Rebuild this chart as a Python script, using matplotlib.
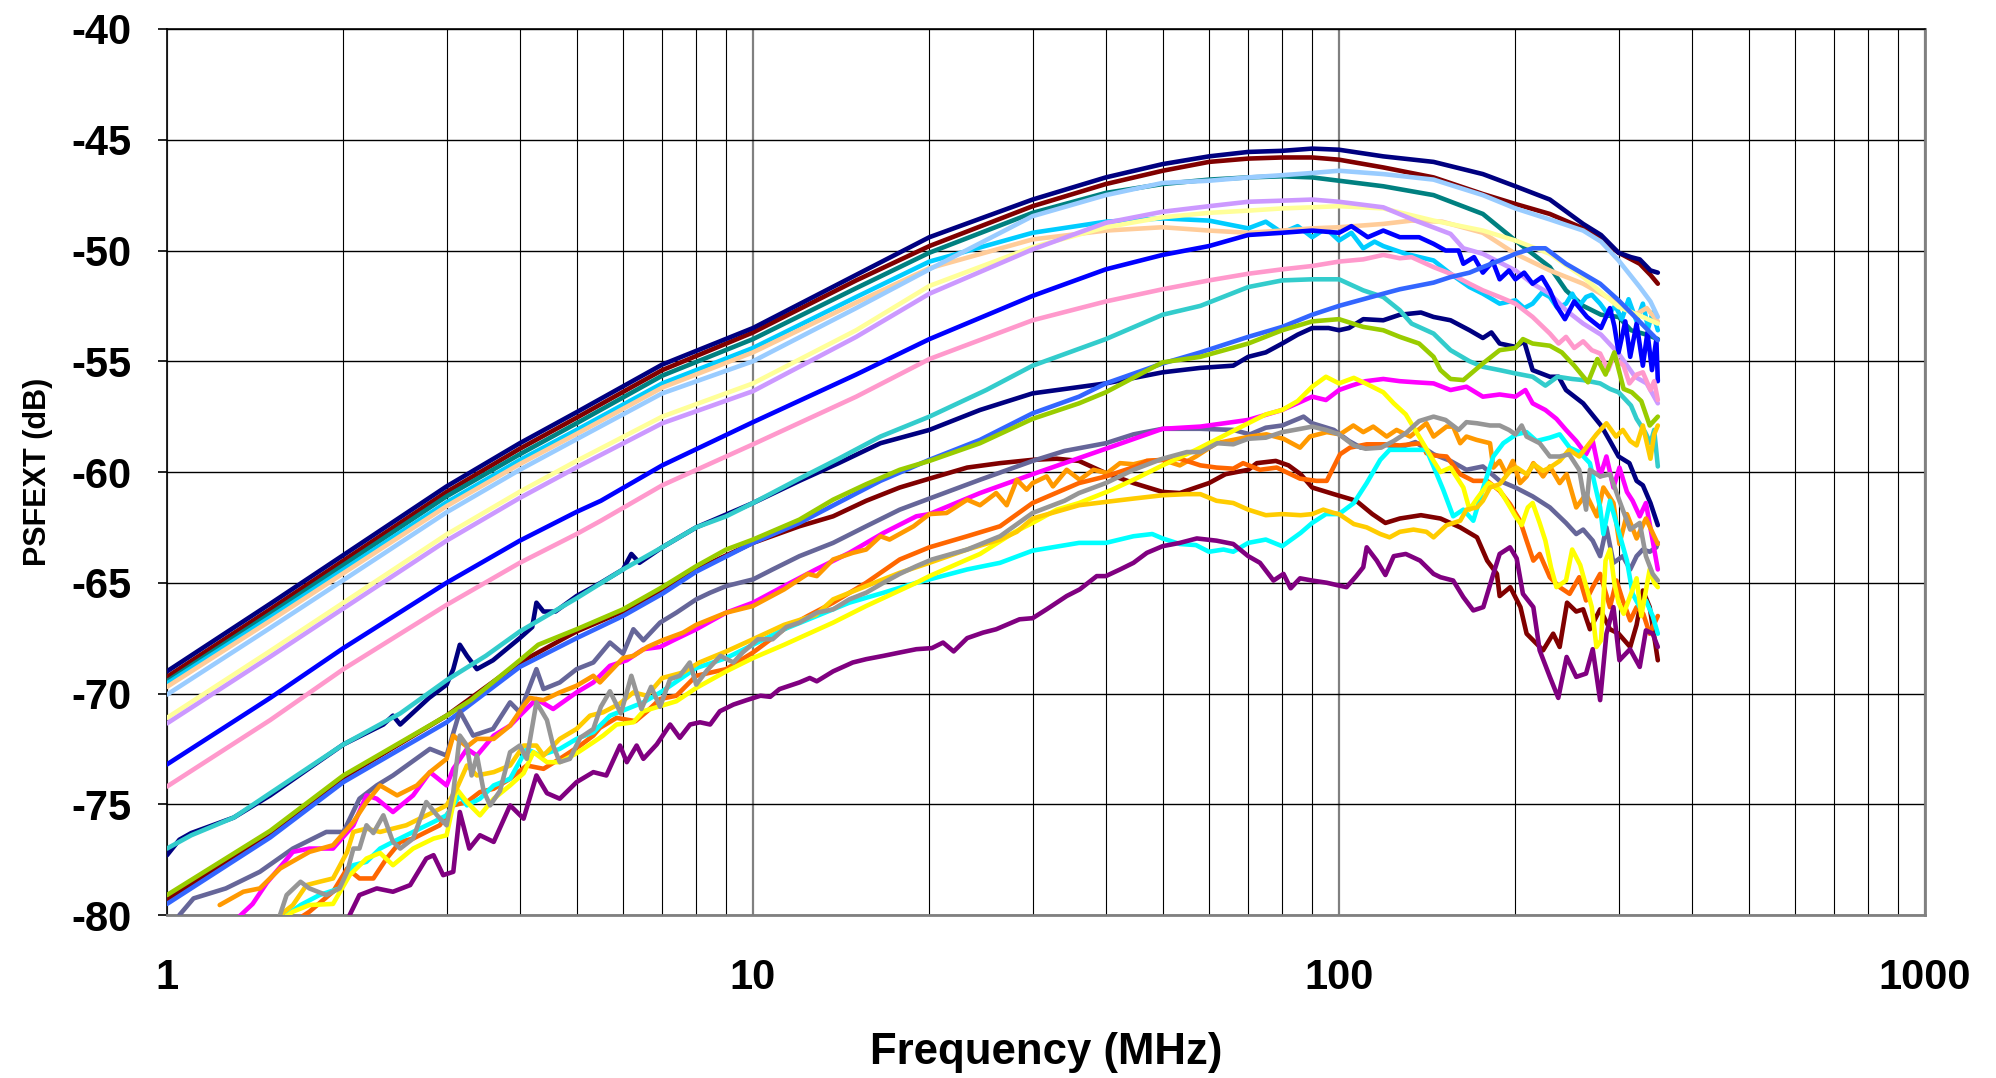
import matplotlib
matplotlib.use('Agg')
import matplotlib.pyplot as plt
from matplotlib.ticker import LogLocator, NullFormatter

plt.rcParams['font.family'] = ['Liberation Sans', 'DejaVu Sans']
plt.rcParams['axes.unicode_minus'] = False

# ---------------- data: (frequency MHz, PSFEXT dB) ----------------
navy_top = [(1,-69.0),(1.5,-65.95),(2,-63.75),(3,-60.65),(4,-58.7),(5,-57.3),(7,-55.15),(10,-53.5),
            (15,-51.1),(20,-49.4),(30,-47.7),(40,-46.7),(50,-46.1),(60,-45.75),(70,-45.55),(80,-45.5),
            (90,-45.4),(100,-45.45),(119,-45.75),(145,-46.0),(176,-46.55),(200,-47.1),(229,-47.7),
            (261,-48.8),(280,-49.3),(300,-50.1),(315,-50.3),(326,-50.4),(340,-50.9),(350,-51.0)]
maroon_top = [(1,-69.25),(1.5,-66.2),(2,-64.0),(3,-60.9),(4,-58.95),(5,-57.55),(7,-55.4),(10,-53.7),
              (15,-51.35),(20,-49.8),(30,-48.0),(40,-47.0),(50,-46.4),(60,-46.0),(70,-45.85),(80,-45.8),
              (90,-45.8),(100,-45.9),(119,-46.25),(145,-46.7),(176,-47.45),(200,-47.9),(229,-48.35),
              (261,-49.0),(280,-49.5),(300,-50.1),(326,-50.6),(340,-51.1),(350,-51.5)]
teal = [(1,-69.45),(1.5,-66.4),(2,-64.2),(3,-61.1),(4,-59.2),(5,-57.8),(7,-55.65),(10,-54.0),
        (15,-51.7),(20,-50.1),(30,-48.3),(40,-47.4),(50,-47.0),(60,-46.8),(70,-46.7),(80,-46.65),
        (90,-46.7),(100,-46.85),(119,-47.1),(145,-47.5),(176,-48.35),(200,-49.55),(229,-50.75),
        (244,-51.8),(261,-52.5),(280,-52.9),(300,-53.0),(315,-53.6),(335,-53.8),(350,-54.0)]
deepsky = [(1,-69.55),(1.5,-66.56),(2,-64.41),(3,-61.37),(4,-59.46),(5,-58.1),(7,-56.0),(10,-54.4),
           (15,-52.1),(20,-50.5),(30,-49.2),(40,-48.7),(50,-48.55),(60,-48.65),(70,-49.0),(75,-48.7),
           (80,-49.2),(85,-48.9),(90,-49.4),(95,-49.0),(100,-49.55),(105,-49.2),(110,-49.9),(115,-49.6),
           (119,-49.8),(130,-50.15),(145,-50.45),(155,-51.05),(167,-51.65),(176,-51.95),(188,-52.4),
           (200,-52.25),(207,-52.6),(214,-52.4),(222,-51.9),(229,-52.1),(236,-52.6),(244,-52.4),
           (250,-51.95),(257,-52.5),(264,-52.1),(270,-52.0),(279,-52.4),(288,-52.9),(296,-52.5),
           (304,-53.1),(312,-52.2),(322,-53.2),(330,-52.4),(337,-53.5),(343,-52.8),(350,-53.6)]
peach = [(1,-69.7),(1.5,-66.72),(2,-64.57),(3,-61.54),(4,-59.64),(5,-58.28),(7,-56.19),(10,-54.6),
         (15,-52.35),(20,-50.8),(30,-49.5),(40,-49.1),(50,-48.95),(60,-49.1),(70,-49.2),(80,-49.1),
         (90,-49.0),(100,-48.95),(119,-48.8),(133,-48.65),(150,-48.7),(176,-49.2),(200,-50.15),
         (229,-50.9),(261,-51.5),(300,-52.4),(320,-52.9),(335,-52.6),(350,-53.2)]
lightblue = [(1,-70.05),(1.5,-67.04),(2,-64.88),(3,-61.82),(4,-59.9),(5,-58.52),(7,-56.45),(10,-55.0),
             (15,-52.6),(20,-50.85),(30,-48.45),(40,-47.5),(50,-46.95),(60,-46.85),(70,-46.7),(80,-46.6),
             (90,-46.5),(100,-46.4),(119,-46.55),(145,-46.8),(176,-47.5),(200,-48.1),(229,-48.6),
             (261,-49.1),(280,-49.6),(300,-50.45),(326,-51.65),(340,-52.3),(350,-53.0)]
lightyellow = [(1,-71.1),(1.5,-68.08),(2,-65.9),(3,-62.82),(4,-60.89),(5,-59.5),(7,-57.5),(10,-56.0),
               (15,-53.6),(20,-51.6),(30,-49.85),(40,-48.95),(50,-48.5),(60,-48.3),(70,-48.2),(80,-48.1),
               (90,-48.05),(100,-48.0),(119,-48.1),(145,-48.65),(176,-49.1),(200,-49.55),(229,-50.15),
               (261,-51.2),(300,-52.55),(330,-53.0),(350,-53.3)]
lavender = [(1,-71.35),(1.5,-68.34),(2,-66.16),(3,-63.1),(4,-61.17),(5,-59.79),(7,-57.8),(10,-56.35),
            (15,-53.9),(20,-51.95),(30,-49.95),(40,-48.75),(50,-48.25),(60,-48.0),(70,-47.8),(80,-47.75),
            (90,-47.7),(100,-47.8),(119,-48.05),(135,-48.65),(155,-49.25),(163,-49.9),(176,-50.15),
            (200,-50.9),(214,-51.5),(229,-51.95),(244,-52.7),(261,-53.3),(280,-53.8),(300,-54.65),
            (320,-55.7),(335,-56.0),(350,-56.9)]
blue = [(1,-73.2),(1.5,-70.2),(2,-67.95),(3,-65.0),(4,-63.1),(5,-61.8),(5.5,-61.3),(7,-59.7),(10,-57.75),
        (15,-55.6),(20,-54.0),(30,-52.05),(40,-50.85),(50,-50.2),(60,-49.8),(70,-49.3),(80,-49.2),
        (90,-49.1),(100,-49.2),(105,-48.9),(112,-49.4),(119,-49.1),(127,-49.4),(137,-49.4),(145,-49.7),
        (152,-50.0),(160,-50.0),(163,-50.6),(170,-50.3),(176,-51.0),(183,-50.5),(188,-51.3),(195,-50.9),
        (200,-51.3),(207,-51.0),(214,-51.5),(222,-51.2),(229,-51.8),(235,-52.5),(243,-53.1),(252,-52.3),
        (265,-53.0),(280,-53.5),(290,-52.6),(295,-53.4),(300,-54.6),(308,-53.2),(314,-54.8),(322,-53.3),
        (330,-55.2),(336,-53.7),(342,-55.4),(348,-54.0),(350,-55.9)]
pink = [(1,-74.2),(1.5,-71.2),(2,-68.9),(3,-66.0),(4,-64.1),(5,-62.8),(5.5,-62.2),(7,-60.6),(10,-58.75),
        (15,-56.6),(20,-54.9),(30,-53.15),(40,-52.3),(50,-51.75),(60,-51.35),(70,-51.05),(80,-50.85),
        (90,-50.7),(100,-50.5),(110,-50.4),(119,-50.2),(127,-50.35),(133,-50.3),(145,-50.75),(155,-51.05),
        (167,-51.5),(176,-51.8),(188,-52.1),(200,-52.4),(214,-53.0),(229,-53.75),(237,-54.2),(244,-53.9),
        (252,-54.4),(261,-54.1),(270,-54.5),(279,-54.65),(288,-55.4),(294,-54.8),(306,-55.2),(313,-56.0),
        (322,-55.6),(330,-55.5),(340,-56.3),(345,-55.9),(350,-56.75)]
navy_mid = [(1,-77.3),(1.05,-76.6),(1.1,-76.3),(1.3,-75.6),(1.5,-74.6),(2,-72.3),(2.34,-71.4),(2.43,-71.0),
            (2.5,-71.4),(2.8,-70.2),(3.0,-69.6),(3.08,-68.9),(3.16,-67.8),(3.25,-68.3),(3.38,-68.9),
            (3.6,-68.5),(4.0,-67.5),(4.2,-67.0),(4.27,-65.9),(4.39,-66.3),(4.6,-66.3),(5,-65.6),(5.5,-65.0),
            (6,-64.4),(6.2,-63.7),(6.4,-64.1),(7,-63.4),(8,-62.5),(10,-61.4),(12,-60.4),(14,-59.6),
            (16.5,-58.7),(20,-58.1),(24.4,-57.2),(30,-56.45),(40,-56.0),(50,-55.5),(58,-55.3),(66,-55.2),
            (70,-54.8),(75,-54.6),(80,-54.2),(85,-53.8),(90,-53.5),(96,-53.5),(100,-53.6),(104,-53.5),
            (110,-53.1),(119,-53.15),(127,-52.9),(138,-52.8),(145,-53.0),(155,-53.15),(167,-53.6),
            (176,-53.95),(182,-53.7),(188,-54.2),(200,-54.35),(207,-54.1),(214,-55.4),(229,-55.7),
            (237,-55.7),(244,-56.3),(261,-56.9),(280,-57.9),(290,-58.6),(300,-59.3),(313,-59.6),
            (322,-60.4),(330,-60.6),(340,-61.4),(350,-62.4)]
turquoise = [(1,-77.0),(1.1,-76.4),(1.3,-75.6),(1.5,-74.5),(2,-72.3),(2.5,-70.9),(3,-69.4),(3.5,-68.3),
             (4,-67.2),(5,-65.7),(6,-64.4),(7,-63.4),(8,-62.5),(9,-62.0),(10,-61.4),(12,-60.3),(14,-59.4),
             (16.5,-58.4),(20,-57.5),(25,-56.3),(30,-55.2),(40,-54.0),(50,-52.9),(58,-52.5),(70,-51.65),
             (80,-51.35),(90,-51.3),(100,-51.3),(110,-51.8),(119,-52.1),(127,-52.7),(133,-53.3),
             (145,-53.75),(155,-54.5),(167,-55.0),(176,-55.25),(188,-55.4),(200,-55.55),(214,-55.7),
             (225,-56.1),(236,-55.7),(250,-55.8),(261,-55.85),(279,-56.0),(290,-56.25),(300,-56.4),
             (315,-57.0),(322,-57.6),(333,-58.2),(340,-58.7),(345,-58.1),(350,-59.75)]
maroon_low = [(1,-79.3),(1.5,-76.3),(2,-73.8),(3,-71.0),(4,-68.6),(5,-67.2),(6,-66.3),(7,-65.3),(8,-64.4),
              (10,-63.2),(12,-62.45),(13.7,-62.0),(15.6,-61.3),(17.8,-60.7),(20,-60.3),(23.2,-59.8),
              (26.4,-59.6),(30,-59.45),(33,-59.4),(36,-59.5),(40,-60.05),(44.6,-60.5),(50,-60.9),
              (53.5,-60.95),(57,-60.7),(60,-60.5),(64,-60.1),(70,-59.9),(72.4,-59.6),(78,-59.5),(82,-59.7),
              (86,-60.1),(90,-60.7),(98,-61.0),(107,-61.3),(114,-61.9),(120,-62.3),(127,-62.1),(138,-61.95),
              (149,-62.1),(161,-62.5),(172,-62.95),(179,-64.0),(186,-64.6),(188,-65.6),(196,-65.2),
              (204,-66.1),(209,-67.3),(223,-68.05),(232,-67.3),(238,-67.9),(245,-65.9),(254,-66.3),
              (261,-66.2),(268,-67.1),(279,-66.2),(290,-67.1),(300,-67.3),(314,-67.9),(322,-66.9),
              (330,-65.35),(339,-66.1),(350,-68.5)]
royalblue = [(1,-79.5),(1.5,-76.5),(2,-74.0),(3,-71.3),(4,-68.8),(5,-67.5),(6,-66.5),(7,-65.5),(8,-64.5),
             (10,-63.2),(12,-62.3),(16.5,-60.4),(20,-59.45),(24.4,-58.55),(30,-57.35),(36,-56.6),
             (40,-56.0),(50,-55.1),(58,-54.6),(70,-53.9),(80,-53.45),(90,-52.9),(100,-52.5),(110,-52.2),
             (119,-51.95),(127,-51.75),(145,-51.45),(155,-51.2),(167,-51.0),(176,-50.75),(188,-50.45),
             (200,-50.15),(214,-49.9),(225,-49.9),(244,-50.6),(261,-51.05),(279,-51.5),(300,-52.25),
             (320,-53.0),(350,-54.05)]
yellowgreen = [(1,-79.1),(1.5,-76.2),(2,-73.7),(3,-71.0),(3.3,-70.3),(4,-68.5),(4.3,-67.8),(5,-67.1),
               (6,-66.2),(7,-65.2),(8,-64.25),(9,-63.5),(10,-63.05),(12,-62.15),(13.7,-61.25),(15.6,-60.55),
               (17.8,-59.9),(20,-59.5),(24.4,-58.7),(30,-57.6),(36,-56.9),(40,-56.4),(50,-55.05),(58,-54.8),
               (70,-54.2),(80,-53.6),(90,-53.2),(100,-53.1),(110,-53.45),(119,-53.6),(127,-53.9),(137,-54.2),
               (145,-54.8),(149,-55.4),(155,-55.8),(163,-55.85),(176,-55.1),(188,-54.5),(200,-54.4),
               (206,-54.0),(214,-54.2),(229,-54.3),(240,-54.6),(252,-55.2),(266,-55.95),(276,-54.9),
               (285,-55.6),(295,-54.6),(306,-56.25),(316,-56.4),(328,-56.8),(339,-57.9),(350,-57.5)]
slate = [(1.05,-80.0),(1.11,-79.25),(1.26,-78.8),(1.44,-78.05),(1.64,-77.0),(1.87,-76.25),(2.0,-76.25),
         (2.13,-74.75),(2.28,-74.15),(2.43,-73.7),(2.81,-72.5),(3.0,-72.8),(3.16,-70.8),(3.33,-71.9),
         (3.6,-71.6),(3.85,-70.4),(4.0,-70.85),(4.27,-68.9),(4.39,-69.8),(4.68,-69.5),(5.0,-68.9),
         (5.34,-68.6),(5.7,-67.7),(6.0,-68.2),(6.25,-67.1),(6.5,-67.6),(6.94,-66.8),(7.4,-66.35),(8,-65.75),
         (8.45,-65.45),(9,-65.15),(10,-64.85),(10.8,-64.4),(12,-63.8),(13.7,-63.2),(15.6,-62.45),
         (17.8,-61.7),(20,-61.2),(24.4,-60.35),(30,-59.5),(34,-59.05),(40,-58.7),(44.6,-58.3),(50,-58.05),
         (58,-58.05),(66,-58.1),(70.5,-58.3),(75,-58.0),(80,-57.9),(87,-57.5),(90,-57.8),(98,-58.1),
         (104,-58.6),(109,-58.9),(119,-58.75),(127,-58.9),(135,-58.65),(145,-59.2),(155,-59.5),(165,-59.9),
         (176,-59.75),(188,-60.4),(200,-60.7),(214,-61.1),(229,-61.6),(244,-62.3),(254,-62.8),(261,-62.6),
         (271,-63.1),(279,-63.8),(286,-62.5),(294,-64.1),(305,-63.8),(314,-64.4),(322,-63.8),(330,-63.5),
         (339,-63.6),(348,-63.4),(350,-63.2)]
magenta = [(1.0,-81.0),(1.3,-80.3),(1.4,-79.5),(1.48,-78.55),(1.64,-77.15),(1.75,-77.0),(1.92,-77.0),
           (2.08,-75.95),(2.19,-74.6),(2.28,-74.75),(2.43,-75.35),(2.63,-74.6),(2.81,-73.55),(3.0,-74.15),
           (3.08,-73.4),(3.25,-72.5),(3.38,-72.8),(3.61,-71.9),(3.85,-71.45),(4.0,-71.0),(4.27,-70.25),
           (4.56,-70.7),(5.0,-69.95),(5.34,-69.5),(5.7,-68.75),(6.09,-68.5),(6.5,-68.0),(6.94,-67.9),
           (7.31,-67.6),(8,-67.1),(9,-66.35),(10,-65.9),(11.3,-65.15),(12.8,-64.4),(14.6,-63.65),
           (16.7,-62.75),(19,-62.0),(20,-61.9),(24.4,-60.95),(30,-60.1),(34,-59.6),(40,-58.95),(50,-58.05),
           (58,-57.95),(70,-57.65),(80,-57.2),(90,-56.6),(95,-56.75),(100,-56.3),(105,-56.1),(111,-55.9),
           (119,-55.8),(127,-55.9),(135,-55.95),(145,-56.0),(155,-56.3),(165,-56.15),(176,-56.6),
           (188,-56.5),(200,-56.6),(208,-56.3),(214,-56.9),(225,-57.2),(235,-57.6),(244,-58.1),(254,-58.6),
           (264,-59.2),(271,-58.6),(279,-60.2),(286,-59.3),(294,-60.7),(301,-59.8),(310,-60.9),(317,-61.3),
           (326,-62.0),(334,-61.4),(343,-63.1),(350,-64.4)]
yellow = [(1.55,-80.3),(1.64,-79.85),(1.75,-79.55),(1.92,-79.5),(2.05,-78.2),(2.19,-77.45),(2.31,-77.2),
          (2.43,-77.75),(2.63,-77.0),(2.85,-76.55),(3.0,-76.4),(3.12,-74.3),(3.25,-74.9),(3.42,-75.5),
          (3.61,-74.75),(3.85,-74.15),(4.06,-73.6),(4.22,-72.65),(4.45,-73.1),(4.68,-73.1),(5.0,-72.7),
          (5.34,-72.2),(5.55,-71.9),(5.85,-71.4),(6.25,-71.3),(6.5,-70.8),(7.4,-70.35),(8,-69.75),(9,-69.0),
          (10,-68.4),(11.3,-67.8),(13.7,-66.8),(15.6,-66.05),(19,-65.0),(20,-64.7),(23.2,-63.95),
          (24.4,-63.7),(28,-62.7),(30,-62.3),(33,-61.7),(36,-61.4),(41,-60.8),(45,-60.3),(50,-59.7),
          (57,-59.0),(60,-58.7),(70,-57.8),(75,-57.4),(80,-57.2),(85,-56.8),(90,-56.15),(95,-55.7),
          (100,-56.0),(106,-55.75),(112,-56.05),(119,-56.4),(124,-56.9),(130,-57.4),(137,-58.4),(145,-59.5),
          (149,-60.0),(155,-59.8),(163,-60.7),(167,-61.7),(172,-61.2),(180,-60.5),(188,-60.8),(195,-61.5),
          (200,-62.0),(205,-62.4),(210,-61.6),(214,-61.4),(220,-62.3),(225,-63.1),(230,-64.3),(235,-65.2),
          (244,-64.9),(250,-63.5),(258,-64.2),(265,-65.3),(270,-66.1),(275,-67.9),(280,-67.6),(285,-64.0),
          (290,-63.5),(295,-65.0),(300,-65.9),(306,-66.4),(316,-65.4),(322,-64.8),(328,-66.5),(339,-64.4),
          (345,-65.0),(350,-65.2)]
gray = [(1.55,-80.2),(1.60,-79.1),(1.69,-78.5),(1.75,-78.8),(1.87,-79.1),(1.97,-78.8),(2.03,-78.05),
        (2.08,-77.0),(2.13,-77.0),(2.19,-75.95),(2.25,-76.3),(2.34,-75.5),(2.43,-76.7),(2.50,-77.0),
        (2.63,-76.55),(2.77,-74.9),(2.89,-75.5),(3.0,-75.95),(3.08,-74.45),(3.16,-71.9),(3.25,-72.35),
        (3.31,-73.7),(3.38,-72.8),(3.47,-74.4),(3.56,-75.05),(3.70,-74.4),(3.85,-72.65),(4.0,-72.35),
        (4.11,-72.95),(4.27,-70.4),(4.45,-71.2),(4.56,-72.35),(4.68,-73.1),(4.87,-72.95),(5.07,-72.0),
        (5.34,-71.6),(5.5,-70.6),(5.7,-69.9),(5.95,-70.9),(6.2,-69.2),(6.45,-70.7),(6.7,-69.7),(6.94,-70.6),
        (7.22,-69.35),(7.5,-69.2),(7.8,-68.6),(8.0,-69.6),(8.35,-68.95),(8.8,-68.3),(9.26,-68.6),
        (9.6,-68.15),(10.2,-67.55),(10.8,-67.55),(11.4,-67.0),(12,-66.8),(12.85,-66.35),(13.7,-66.2),
        (14.6,-65.75),(15.6,-65.45),(16.7,-65.0),(17.8,-64.6),(19,-64.25),(20.2,-63.95),(23.2,-63.5),
        (26.4,-62.9),(30,-61.85),(34,-61.3),(36,-60.95),(40,-60.5),(44.6,-59.9),(50,-59.4),(55,-59.1),
        (58,-59.1),(62,-58.7),(66,-58.75),(70,-58.5),(75,-58.45),(80,-58.2),(86,-58.05),(90,-57.95),
        (95,-58.1),(100,-58.3),(106,-58.8),(111,-58.95),(118,-58.9),(124,-58.6),(130,-58.25),(137,-57.7),
        (145,-57.5),(152,-57.65),(160,-58.1),(165,-57.75),(172,-57.8),(181,-57.9),(188,-57.9),(195,-58.1),
        (200,-58.3),(205,-57.9),(209,-58.4),(220,-58.7),(229,-59.3),(238,-59.3),(247,-59.2),(257,-59.9),
        (264,-61.7),(268,-59.9),(279,-60.2),(290,-60.1),(301,-61.3),(314,-62.6),(326,-62.3),(334,-63.8),
        (343,-64.6),(350,-64.9)]
orange = [(1.23,-79.55),(1.35,-78.95),(1.44,-78.8),(1.56,-77.9),(1.75,-77.15),(1.92,-76.85),(2.08,-75.8),
          (2.19,-74.9),(2.31,-74.15),(2.47,-74.6),(2.67,-74.15),(2.81,-73.55),(3.0,-72.95),(3.08,-71.9),
          (3.25,-72.4),(3.38,-72.05),(3.61,-72.05),(3.85,-71.45),(4.06,-70.55),(4.16,-70.2),(4.39,-70.3),
          (4.68,-69.95),(5.0,-69.65),(5.34,-69.2),(5.48,-69.5),(6.0,-68.4),(6.25,-68.3),(6.6,-67.9),
          (7.0,-67.6),(7.6,-67.25),(8,-66.9),(9,-66.35),(10,-66.05),(11.3,-65.3),(12.4,-64.6),(12.85,-64.7),
          (13.7,-63.95),(14.8,-63.65),(15.6,-63.5),(16.5,-62.9),(17.1,-63.05),(18.8,-62.45),(20,-61.9),
          (21.4,-61.85),(23.2,-61.25),(24.4,-61.5),(26,-60.95),(27.1,-61.5),(28.2,-60.35),(29.3,-60.8),
          (30,-60.5),(31.7,-60.2),(32.5,-60.65),(34.3,-59.9),(36.1,-60.35),(38.1,-59.9),(40.2,-60.05),
          (42.3,-59.6),(44.6,-59.65),(47,-59.5),(50,-59.45),(53.5,-59.7),(57,-59.3),(61.8,-58.7),(66,-58.55),
          (70.5,-58.4),(75.2,-58.3),(80.4,-58.5),(85.8,-58.9),(89.2,-58.4),(95.3,-58.2),(100.4,-58.3),
          (105.8,-57.9),(110,-58.2),(114.4,-57.95),(120.6,-58.4),(125.4,-58.1),(132.2,-58.4),(141,-57.8),
          (145,-58.4),(152.6,-57.95),(156.6,-57.95),(161,-58.7),(165,-58.4),(171.7,-58.55),(181,-58.7),
          (183.4,-59.8),(188,-59.5),(193,-60.1),(198,-59.5),(203.7,-60.5),(209,-60.2),(214.6,-59.6),
          (223,-60.2),(229,-59.75),(238,-60.5),(244.6,-60.1),(254,-61.6),(264,-61.0),(275.5,-62.0),
          (282.6,-60.7),(294,-61.4),(301,-63.25),(310,-61.9),(322,-63.0),(334,-62.1),(350,-63.25)]
darkorange = [(1.65,-80.3),(1.75,-79.85),(1.92,-78.95),(2.03,-77.9),(2.13,-78.35),(2.25,-78.35),
              (2.37,-77.45),(2.50,-76.7),(2.63,-76.55),(2.77,-76.25),(2.92,-75.95),(3.08,-75.05),
              (3.25,-74.9),(3.42,-74.45),(3.61,-74.3),(3.85,-73.85),(4.11,-73.25),(4.39,-73.4),(4.68,-72.95),
              (5.07,-72.35),(5.34,-71.9),(5.48,-71.55),(5.85,-71.1),(6.3,-71.25),(6.6,-70.8),(6.94,-70.25),
              (7.4,-70.1),(8,-69.2),(9,-68.9),(10,-68.15),(11.3,-67.1),(12.4,-66.5),(13.7,-65.9),(15.6,-65.0),
              (17.8,-63.95),(20,-63.4),(23.2,-62.9),(26.4,-62.45),(30,-61.4),(36,-60.5),(40,-60.2),
              (45,-59.75),(47,-59.5),(53.5,-59.4),(58,-59.7),(61.8,-59.8),(66,-59.85),(68.6,-59.6),
              (73.3,-59.9),(78.3,-59.8),(82.7,-60.1),(85.8,-60.3),(91.5,-60.4),(95.3,-60.4),(97.8,-59.8),
              (100.4,-59.2),(104.4,-58.9),(111.5,-58.75),(119,-58.75),(127,-58.8),(138.5,-58.7),(141,-59.15),
              (145,-59.25),(152.6,-59.3),(161,-60.1),(169.5,-60.4),(179,-60.4),(188,-60.85),(195.8,-61.45),
              (203.7,-62.2),(209,-63.1),(214.6,-64.0),(220,-63.7),(229,-64.75),(238,-65.2),(247.5,-65.5),
              (257,-64.75),(264,-65.8),(271,-65.2),(279,-64.6),(290,-66.1),(297.5,-64.9),(305,-65.8),
              (314,-66.7),(322,-66.1),(330.5,-66.4),(339,-67.3),(350,-66.5)]
gold = [(1.56,-80.0),(1.64,-79.55),(1.73,-78.65),(1.82,-78.5),(1.92,-78.35),(2.03,-77.15),(2.08,-76.25),
        (2.19,-76.1),(2.31,-76.25),(2.43,-76.1),(2.56,-75.95),(2.70,-75.65),(2.85,-75.35),(3.0,-75.05),
        (3.12,-74.3),(3.25,-73.25),(3.38,-73.7),(3.61,-73.55),(3.85,-73.25),(4.06,-72.35),(4.27,-72.35),
        (4.39,-72.8),(4.68,-72.05),(5.0,-71.6),(5.27,-71.0),(5.55,-70.85),(5.93,-70.45),(6.25,-69.95),
        (6.59,-70.1),(7.0,-69.3),(7.6,-69.05),(8.1,-68.6),(9,-68.1),(10,-67.55),(11.3,-66.9),(12.8,-66.45),
        (13.7,-65.75),(15.6,-65.15),(17.8,-64.55),(20,-64.1),(23.2,-63.5),(26.4,-63.05),(28.2,-62.7),
        (30,-62.1),(36,-61.5),(40,-61.35),(44.6,-61.2),(50,-61.05),(55,-61.0),(58,-61.0),(61.8,-61.3),
        (66,-61.4),(70,-61.7),(75,-61.95),(80,-61.9),(86,-61.95),(90,-61.9),(94,-61.7),(98,-61.85),
        (100,-61.9),(106,-62.35),(111.5,-62.5),(117.6,-62.8),(122,-62.95),(127,-62.7),(134,-62.6),
        (141,-62.7),(145,-62.95),(152.6,-62.4),(161,-62.2),(165,-61.7),(172,-61.6),(176,-61.3),(181,-60.7),
        (188,-60.55),(196,-59.95),(201,-59.8),(209,-60.1),(215,-59.65),(223,-59.95),(229,-59.8),(238,-59.5),
        (247,-59.0),(257,-59.3),(264,-58.9),(275,-58.3),(286,-57.8),(297,-58.4),(305,-58.1),(314,-58.6),
        (322,-58.8),(330,-57.9),(340,-59.4),(345,-58.3),(350,-57.9)]
cyan = [(1.60,-80.0),(1.69,-79.55),(1.82,-79.1),(1.97,-78.8),(2.08,-77.75),(2.19,-77.6),(2.31,-77.0),
        (2.43,-76.7),(2.63,-76.25),(2.85,-75.8),(3.0,-75.5),(3.16,-74.6),(3.25,-75.05),(3.42,-74.75),
        (3.61,-74.15),(3.85,-73.85),(4.11,-72.5),(4.33,-72.8),(4.68,-72.5),(5.0,-72.05),(5.34,-71.75),
        (5.7,-71.0),(6.09,-70.7),(6.5,-70.4),(7.0,-69.9),(8.0,-68.85),(9.0,-68.4),(10,-67.8),(11.3,-67.1),
        (12.85,-66.5),(14.6,-65.9),(16.7,-65.45),(19,-65.0),(20,-64.85),(23.2,-64.4),(26.4,-64.1),
        (30,-63.55),(36,-63.2),(40,-63.2),(44.6,-62.9),(48,-62.8),(50,-63.0),(53.5,-63.25),(57,-63.3),
        (60,-63.6),(63.5,-63.5),(66,-63.6),(70,-63.2),(75,-63.05),(80,-63.35),(86,-62.75),(90,-62.3),
        (95,-61.9),(100,-61.9),(106,-61.4),(111.5,-60.5),(117.6,-59.45),(122,-59.0),(132,-59.0),(141,-59.0),
        (145,-59.75),(150.6,-60.8),(156.6,-62.0),(163,-61.7),(169.5,-62.2),(176.3,-60.7),(183.4,-59.3),
        (190.7,-58.7),(200.7,-58.3),(209,-58.2),(217.3,-58.6),(229,-58.45),(238,-58.3),(247.5,-58.9),
        (257,-59.1),(268,-59.6),(279,-61.6),(282.6,-62.8),(290,-61.3),(301,-62.8),(310,-64.0),(317,-65.5),
        (326,-66.1),(334,-65.8),(343,-66.5),(350,-67.3)]
purple = [(2.05,-80.0),(2.13,-79.1),(2.28,-78.8),(2.43,-78.95),(2.6,-78.65),(2.77,-77.45),(2.85,-77.3),
          (2.96,-78.2),(3.08,-78.05),(3.16,-75.35),(3.28,-77.0),(3.42,-76.4),(3.61,-76.7),(3.85,-75.05),
          (4.06,-75.65),(4.27,-73.7),(4.45,-74.5),(4.68,-74.75),(5.0,-74.0),(5.34,-73.55),(5.62,-73.7),
          (5.93,-72.35),(6.09,-73.1),(6.33,-72.35),(6.5,-72.95),(6.85,-72.3),(7.22,-71.4),(7.5,-72.0),
          (7.81,-71.4),(8.12,-71.3),(8.45,-71.4),(8.78,-70.8),(9.26,-70.5),(9.75,-70.3),(10.3,-70.1),
          (10.7,-70.15),(11.1,-69.8),(12.0,-69.5),(12.5,-69.3),(12.85,-69.45),(13.7,-69.0),(14.8,-68.6),
          (15.6,-68.45),(16.7,-68.3),(17.8,-68.15),(19.0,-68.0),(20.2,-67.95),(21.1,-67.7),(22.0,-68.1),
          (23.2,-67.5),(24.7,-67.25),(26.0,-67.1),(28.5,-66.65),(30,-66.6),(31.7,-66.2),(34.3,-65.6),
          (36.1,-65.3),(38.6,-64.7),(40,-64.7),(42.3,-64.4),(44.6,-64.1),(47,-63.65),(50,-63.35),
          (53.5,-63.2),(57.2,-63.0),(61.8,-63.1),(66,-63.25),(70,-63.8),(73.3,-64.1),(77.3,-64.9),
          (80.4,-64.6),(82.7,-65.25),(85.8,-64.8),(90,-64.9),(95.3,-65.0),(99,-65.1),(103,-65.2),
          (107,-64.7),(110,-64.3),(111.5,-63.4),(116,-64.0),(120,-64.65),(124,-63.8),(130,-63.7),
          (137.5,-64.0),(145,-64.6),(149,-64.75),(156.6,-64.9),(163,-65.65),(169.5,-66.25),(176.3,-66.1),
          (183.4,-64.6),(188,-63.7),(195.8,-63.4),(201,-63.9),(206,-65.5),(214.6,-66.1),(220,-68.05),
          (229,-69.25),(236.7,-70.2),(244.6,-68.35),(254,-69.25),(264,-69.1),(271,-68.0),(279,-70.3),
          (286,-67.3),(294,-66.1),(301,-68.5),(313.8,-68.0),(326,-68.8),(334,-67.15),(343,-67.3),(350,-67.9)]

series = [
    (maroon_top, '#800000'), (navy_top, '#000080'), (teal, '#008080'), (deepsky, '#00CCFF'),
    (peach, '#FFCC99'), (lightyellow, '#FFFF99'), (lightblue, '#99CCFF'), (lavender, '#CC99FF'),
    (blue, '#0000FF'), (pink, '#FF99CC'), (navy_mid, '#000080'), (turquoise, '#33CCCC'),
    (maroon_low, '#800000'), (royalblue, '#3366FF'), (yellowgreen, '#99CC00'), (slate, '#666699'),
    (magenta, '#FF00FF'), (orange, '#FF9900'), (darkorange, '#FF6600'), (cyan, '#00FFFF'),
    (yellow, '#FFFF00'), (gold, '#FFCC00'), (gray, '#969696'), (purple, '#800080'),
]

W, H = 1996, 1078
fig = plt.figure(figsize=(W / 100, H / 100), dpi=100)
ax = fig.add_axes([167 / W, 1 - 915 / H, (1925 - 167) / W, (915 - 29) / H])

for pts, col in series:
    fx = [p[0] for p in pts]
    fy = [p[1] for p in pts]
    ax.plot(fx, fy, color=col, lw=3.3, solid_joinstyle='round', solid_capstyle='round', zorder=3)

ax.set_xscale('log')
ax.set_xlim(1, 1000)
ax.set_ylim(-80, -40)
ax.set_xticks([1, 10, 100, 1000])
ax.set_xticklabels(['1', '10', '100', '1000'])
ax.xaxis.set_minor_locator(LogLocator(base=10, subs=[2, 3, 4, 5, 6, 7, 8, 9]))
ax.xaxis.set_minor_formatter(NullFormatter())
ax.set_yticks(list(range(-80, -39, 5)))
ax.set_yticklabels([str(v) for v in range(-80, -39, 5)])

ax.tick_params(axis='x', which='both', length=0, pad=31, labelsize=30)
ax.tick_params(axis='y', which='major', length=6.5, width=1.2, pad=19, labelsize=30, direction='out')
for lab in ax.get_xticklabels() + ax.get_yticklabels():
    lab.set_fontweight('bold')

ax.set_axisbelow(True)
ax.grid(True, which='major', axis='y', color='black', lw=1.0)
ax.grid(True, which='minor', axis='x', color='black', lw=0.8)
ax.grid(True, which='major', axis='x', color='#808080', lw=1.6)

ax.spines['left'].set_color('black')
ax.spines['left'].set_linewidth(1.2)
ax.spines['top'].set_color('black')
ax.spines['top'].set_linewidth(1.2)
for s in ('right', 'bottom'):
    ax.spines[s].set_color('#808080')
    ax.spines[s].set_linewidth(2.0)

fig.text(38 / W, 1 - 472 / H, 'PSFEXT (dB)', rotation=90, ha='center', va='center',
         fontsize=22, fontweight='bold')
fig.text(1046 / W, 1 - 1064 / H, 'Frequency (MHz)', ha='center', va='baseline',
         fontsize=31.5, fontweight='bold')

fig.savefig('out.png', dpi=100)
